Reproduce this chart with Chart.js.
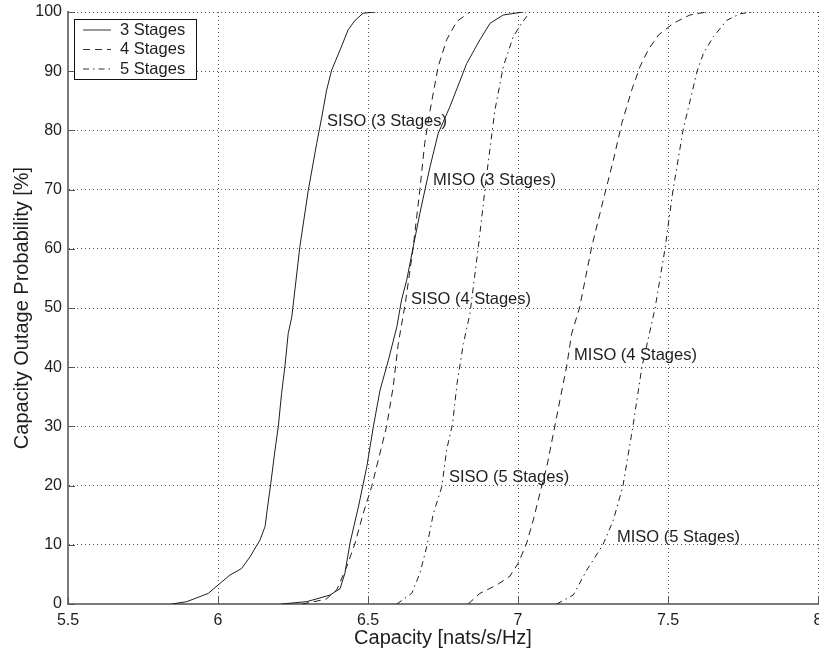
<!DOCTYPE html>
<html lang="en">
<head>
    <meta charset="utf-8" />
    <title>Capacity Outage Probability</title>
    <script src="https://cdn.jsdelivr.net/npm/chart.js@4.4.0/dist/chart.umd.min.js"></script>
    <style>
        body { margin: 0; background: #fff; }
        #wrap { width: 819px; height: 653px; }
    </style>
</head>
<body>
    <div id="wrap">
        <canvas id="myChart" width="819" height="653"></canvas>
    </div>

    <script>
        // curves: capacity [nats/s/Hz] vs outage probability [%]
        let siso3X = [5.846, 5.896, 5.968, 6.0, 6.04, 6.079, 6.107, 6.14, 6.157, 6.164, 6.176, 6.19, 6.201, 6.212, 6.223, 6.234, 6.246, 6.273, 6.301, 6.329, 6.346, 6.362, 6.379, 6.407, 6.434, 6.457, 6.484, 6.525];
        let siso3Y = [0, 0.4, 1.8, 3.2, 4.9, 6.0, 8.0, 10.8, 13.1, 15.9, 20.4, 26, 30, 35.6, 40.1, 45.7, 48.5, 60.4, 69.9, 77.8, 82.3, 86.8, 90.2, 93.6, 97, 98.6, 99.8, 100];

        let miso3X = [6.212, 6.296, 6.373, 6.407, 6.423, 6.44, 6.468, 6.496, 6.518, 6.54, 6.568, 6.596, 6.612, 6.629, 6.651, 6.673, 6.69, 6.707, 6.734, 6.773, 6.829, 6.873, 6.907, 6.951, 7.018];
        let miso3Y = [0, 0.4, 1.5, 2.6, 5.2, 10.3, 16.4, 23.2, 30, 36.1, 41.2, 46.8, 51.4, 54.7, 60.4, 66, 70, 73.9, 79.5, 84, 91.3, 95.3, 98.1, 99.5, 100];

        let siso4X = [6.28, 6.36, 6.396, 6.429, 6.457, 6.484, 6.512, 6.54, 6.562, 6.584, 6.601, 6.625, 6.65, 6.673, 6.689, 6.707, 6.734, 6.762, 6.796, 6.84];
        let siso4Y = [0, 0.8, 2.4, 6.3, 10.3, 15.3, 19.8, 25.5, 30, 36.7, 44, 51, 60, 70, 77.8, 83.4, 90.8, 95.3, 98.4, 100];

        let miso4X = [6.834, 6.873, 6.929, 6.973, 7.001, 7.029, 7.051, 7.073, 7.096, 7.118, 7.14, 7.162, 7.179, 7.205, 7.246, 7.284, 7.318, 7.346, 7.379, 7.407, 7.434, 7.468, 7.518, 7.573, 7.629];
        let miso4Y = [0, 1.8, 3.2, 4.7, 6.9, 10.3, 14.2, 18.7, 23.2, 28.8, 34.5, 40.1, 45.7, 50, 60.4, 68.2, 75, 81.2, 86.8, 90.8, 93.6, 96.1, 98.1, 99.5, 100];

        let siso5X = [6.596, 6.646, 6.673, 6.696, 6.718, 6.746, 6.762, 6.782, 6.797, 6.818, 6.84, 6.868, 6.896, 6.923, 6.951, 6.984, 7.012, 7.04];
        let siso5Y = [0, 1.8, 5.2, 9.7, 15.3, 19.8, 26, 30.5, 37.3, 44, 49.1, 60.4, 72.7, 83.4, 90.8, 95.8, 98.1, 100];

        let miso5X = [7.129, 7.184, 7.229, 7.283, 7.318, 7.35, 7.383, 7.413, 7.457, 7.49, 7.517, 7.55, 7.597, 7.618, 7.651, 7.696, 7.74, 7.779];
        let miso5Y = [0, 1.5, 5.7, 10, 14.2, 20, 30, 40, 50, 60, 70, 80, 90, 93, 95.8, 98.6, 99.7, 100];

        // x / y ticks
        let xTicks = [5.5, 6, 6.5, 7, 7.5, 8];
        let yTicks = [0, 10, 20, 30, 40, 50, 60, 70, 80, 90, 100];

        // legend and in-plot labels
        let legendLabels = ["3 Stages", "4 Stages", "5 Stages"];
        let curveLabels = ["SISO (3 Stages)", "MISO (3 Stages)", "SISO (4 Stages)", "MISO (4 Stages)", "SISO (5 Stages)", "MISO (5 Stages)"];
        let curveLabelX = [6.363, 6.717, 6.643, 7.187, 6.77, 7.33];
        let curveLabelY = [81.5, 71.5, 51.5, 41.9, 21.3, 11.3];

        const SOLID = [];
        const DASHED = [7, 5];
        const DASHDOT = [6, 4, 1.5, 4];
        const FONT = "'Liberation Sans', Arial, Helvetica, sans-serif";
        const INK = "#1e1e1e";

        let toPoints = (xs, ys) => xs.map((x, i) => ({ x: x, y: ys[i] }));

        let makeSet = (label, xs, ys, dash) => ({
            label: label,
            data: toPoints(xs, ys),
            borderColor: INK,
            borderWidth: 1,
            borderDash: dash,
            pointRadius: 0,
            showLine: true,
            fill: false,
            tension: 0,
        });

        let datasets = [
            makeSet(curveLabels[0], siso3X, siso3Y, SOLID),
            makeSet(curveLabels[1], miso3X, miso3Y, SOLID),
            makeSet(curveLabels[2], siso4X, siso4Y, DASHED),
            makeSet(curveLabels[3], miso4X, miso4Y, DASHED),
            makeSet(curveLabels[4], siso5X, siso5Y, DASHDOT),
            makeSet(curveLabels[5], miso5X, miso5Y, DASHDOT),
        ];

        // inward ticks, curve labels and the boxed legend
        let extrasPlugin = {
            id: "extras",
            afterDatasetsDraw(chart) {
                let ctx = chart.ctx;
                let xs = chart.scales.x;
                let ys = chart.scales.y;
                let area = chart.chartArea;

                ctx.save();
                ctx.strokeStyle = "#555";
                ctx.lineWidth = 1;
                ctx.beginPath();
                xTicks.forEach((v) => {
                    let px = Math.round(xs.getPixelForValue(v)) + 0.5;
                    ctx.moveTo(px, area.bottom);
                    ctx.lineTo(px, area.bottom - 7);
                });
                yTicks.forEach((v) => {
                    let py = Math.round(ys.getPixelForValue(v)) + 0.5;
                    ctx.moveTo(area.left, py);
                    ctx.lineTo(area.left + 7, py);
                });
                ctx.stroke();

                ctx.fillStyle = INK;
                ctx.font = "16.5px " + FONT;
                ctx.textAlign = "left";
                ctx.textBaseline = "middle";
                curveLabels.forEach((t, i) => {
                    ctx.fillText(t, xs.getPixelForValue(curveLabelX[i]), ys.getPixelForValue(curveLabelY[i]));
                });

                // legend box
                let bx = area.left + 6, by = area.top + 7, bw = 122, bh = 60;
                ctx.fillStyle = "#fff";
                ctx.fillRect(bx, by, bw, bh);
                ctx.strokeStyle = "#111";
                ctx.lineWidth = 1;
                ctx.setLineDash([]);
                ctx.strokeRect(bx + 0.5, by + 0.5, bw, bh);

                let dashes = [SOLID, DASHED, DASHDOT];
                legendLabels.forEach((t, i) => {
                    let ly = by + 11 + i * 19.5;
                    ctx.strokeStyle = "#333";
                    ctx.setLineDash(dashes[i]);
                    ctx.beginPath();
                    ctx.moveTo(bx + 9, ly);
                    ctx.lineTo(bx + 37, ly);
                    ctx.stroke();
                    ctx.setLineDash([]);
                    ctx.fillStyle = INK;
                    ctx.fillText(t, bx + 46, ly);
                });
                ctx.restore();
            },
        };

        let ctx = document.getElementById("myChart");
        let myChart = new Chart(ctx, {
            type: "scatter",
            data: { datasets: datasets },
            plugins: [extrasPlugin],
            options: {
                responsive: false,
                animation: false,
                layout: { autoPadding: false, padding: { top: 12, right: 1, left: 0, bottom: 0 } },
                plugins: {
                    legend: { display: false },
                    tooltip: { enabled: false },
                },
                scales: {
                    x: {
                        type: "linear",
                        min: 5.5,
                        max: 8,
                        afterFit: (scale) => {
                            scale.height = 49;
                            scale.paddingLeft = 0;
                            scale.paddingRight = 0;
                        },
                        afterBuildTicks: (scale) => { scale.ticks = xTicks.map((v) => ({ value: v })); },
                        ticks: {
                            color: INK,
                            padding: 7,
                            maxRotation: 0,
                            font: { family: FONT, size: 16 },
                            callback: (v) => String(v),
                        },
                        grid: { color: "#555", drawTicks: false, lineWidth: 1 },
                        border: { color: "#7a7a7a", width: 2, dash: [1, 3] },
                        title: {
                            display: true,
                            text: "Capacity [nats/s/Hz]",
                            color: INK,
                            font: { family: FONT, size: 20 },
                            padding: { top: 0, bottom: 3 },
                        },
                    },
                    y: {
                        type: "linear",
                        min: 0,
                        max: 100,
                        afterFit: (scale) => {
                            scale.width = 68;
                            scale.paddingTop = 0;
                            scale.paddingBottom = 0;
                        },
                        afterBuildTicks: (scale) => { scale.ticks = yTicks.map((v) => ({ value: v })); },
                        ticks: {
                            color: INK,
                            padding: 6,
                            font: { family: FONT, size: 16 },
                        },
                        grid: { color: "#555", drawTicks: false, lineWidth: 1 },
                        border: { color: "#7a7a7a", width: 2, dash: [1, 3] },
                        title: {
                            display: true,
                            text: "Capacity Outage Probability [%]",
                            color: INK,
                            font: { family: FONT, size: 20 },
                            padding: { top: 10, bottom: 0 },
                        },
                    },
                },
            },
        });
    </script>
</body>
</html>
